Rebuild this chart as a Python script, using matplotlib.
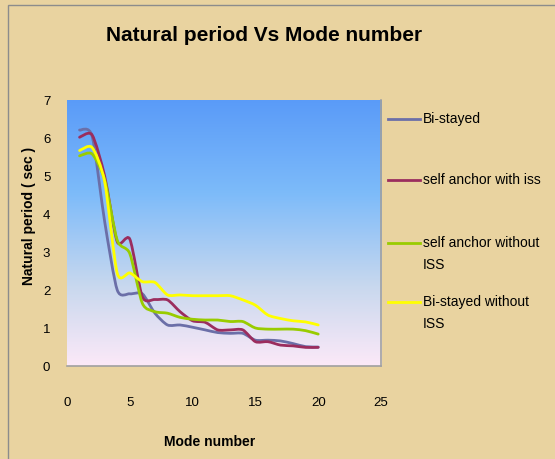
import numpy as np
import matplotlib
matplotlib.use("Agg")
import matplotlib.pyplot as plt
from matplotlib.path import Path
from matplotlib.patches import PathPatch, Rectangle
from matplotlib.lines import Line2D
from matplotlib.colors import LinearSegmentedColormap

# data
modes = list(range(1, 21))
bi_stayed = [6.21, 6.05, 3.80, 2.00, 1.90, 1.90, 1.39, 1.08, 1.08, 1.02,
             0.95, 0.88, 0.86, 0.86, 0.68, 0.68, 0.66, 0.59, 0.51, 0.50]
self_anchor_iss = [6.02, 6.08, 5.00, 3.27, 3.34, 1.82, 1.75, 1.74, 1.43, 1.19,
                   1.15, 0.95, 0.95, 0.95, 0.64, 0.64, 0.55, 0.53, 0.49, 0.49]
self_anchor_no_iss = [5.53, 5.58, 4.90, 3.31, 2.96, 1.65, 1.43, 1.39, 1.28, 1.23,
                      1.21, 1.21, 1.17, 1.17, 1.00, 0.97, 0.97, 0.97, 0.93, 0.84]
bi_stayed_no_iss = [5.67, 5.75, 4.85, 2.44, 2.45, 2.22, 2.20, 1.87, 1.87, 1.85,
                    1.85, 1.85, 1.85, 1.74, 1.60, 1.34, 1.25, 1.19, 1.16, 1.08]

series = [
    (["Bi-stayed"], bi_stayed, "#6B6FA8"),
    (["self anchor with iss"], self_anchor_iss, "#9B2D5E"),
    (["self anchor without", "ISS"], self_anchor_no_iss, "#99CC00"),
    (["Bi-stayed without", "ISS"], bi_stayed_no_iss, "#FFFF00"),
]

plt.rcParams["font.family"] = ["Liberation Sans", "DejaVu Sans"]


def smooth_path(x, y, k=8.0):
    # smoothed line like Excel: Catmull-Rom drawn as cubic Bezier segments
    pts = np.column_stack([x, y]).astype(float)
    n = len(pts)
    verts = [pts[0]]
    codes = [Path.MOVETO]
    for i in range(n - 1):
        p0 = pts[max(i - 1, 0)]
        p1 = pts[i]
        p2 = pts[i + 1]
        p3 = pts[min(i + 2, n - 1)]
        c1 = p1 + (p2 - p0) / k
        c2 = p2 - (p3 - p1) / k
        verts += [c1, c2, p2]
        codes += [Path.CURVE4] * 3
    return Path(verts, codes)


fig = plt.figure(figsize=(5.55, 4.59), dpi=100)
fig.patch.set_facecolor("#E9D3A0")
fig.patches.append(Rectangle((8 / 555, -0.01), 1.0, 1 - 5 / 459 + 0.01,
                             transform=fig.transFigure, fill=False,
                             edgecolor="#8C8C8C", linewidth=1.0))

ax = fig.add_axes([0.1207, 0.2026, 0.5658, 0.5795])
ax.set_xlim(0, 25)
ax.set_ylim(0, 7)

cmap = LinearSegmentedColormap.from_list(
    "bg", [(0.0, "#5A9BF8"), (0.35, "#7DBBFA"), (0.7, "#C8D8EE"), (1.0, "#FCE9F8")])
grad = np.linspace(0, 1, 256).reshape(-1, 1)
ax.imshow(grad, cmap=cmap, extent=[0, 25, 0, 7], aspect="auto", zorder=0,
          origin="upper")

for label, vals, color in series:
    ax.add_patch(PathPatch(smooth_path(modes, vals), facecolor="none",
                           edgecolor=color, linewidth=2.0, zorder=3,
                           capstyle="round", joinstyle="round"))

for side in ["top", "left"]:
    ax.spines[side].set_visible(False)
for side in ["bottom", "right"]:
    ax.spines[side].set_color("#A0A0A0")
    ax.spines[side].set_linewidth(1.2)

ax.set_xticks([0, 5, 10, 15, 20, 25])
ax.set_yticks(range(0, 8))
ax.tick_params(axis="x", length=0, pad=22, labelsize=9.5)
ax.tick_params(axis="y", length=0, pad=12, labelsize=9.5)

fig.text(0.476, 0.923, "Natural period Vs Mode number", ha="center", va="center",
         fontsize=15, fontweight="bold")
fig.text(0.378, 0.037, "Mode number", ha="center", va="center",
         fontsize=10, fontweight="bold")
fig.text(0.052, 0.53, "Natural period ( sec )", ha="center", va="center",
         rotation=90, fontsize=10, fontweight="bold")

# legend drawn by hand so the key line sits beside the first text line
legend_y = [119, 180, 243, 302]
for (lines, _, color), ypx in zip(series, legend_y):
    yf = 1 - ypx / 459
    fig.lines.append(Line2D([388 / 555, 420 / 555], [yf, yf], color=color,
                            linewidth=2.0, transform=fig.transFigure))
    for j, txt in enumerate(lines):
        fig.text(423 / 555, 1 - (ypx + 22 * j) / 459, txt, ha="left",
                 va="center", fontsize=10)

plt.savefig("out.png", dpi=100, facecolor=fig.get_facecolor())
